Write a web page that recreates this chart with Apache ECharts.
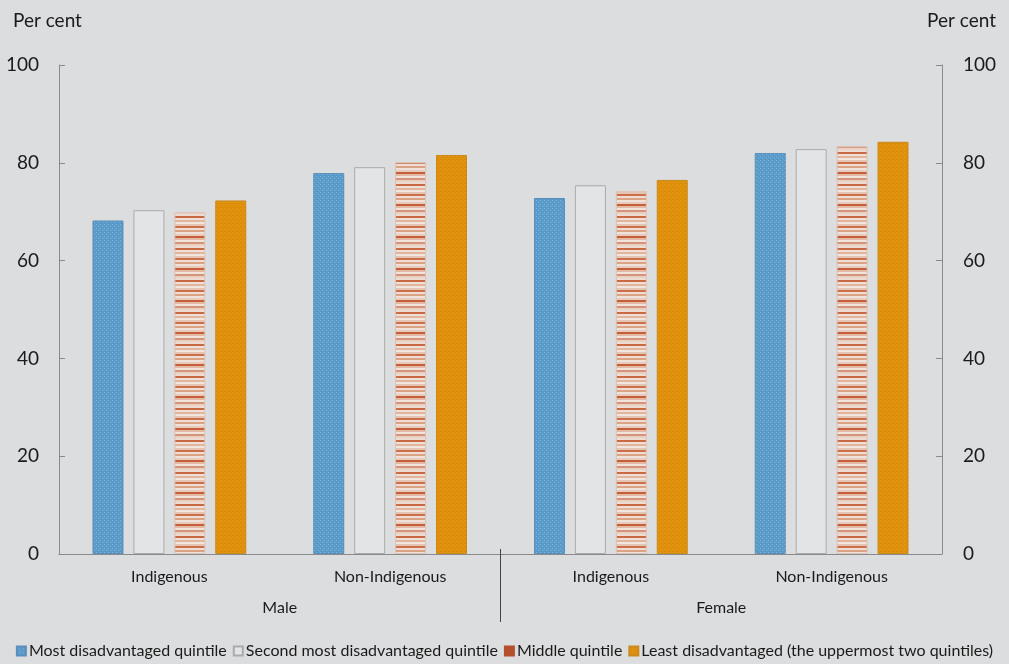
<!DOCTYPE html>
<html>
<head>
<meta charset="utf-8">
<script src="https://cdn.jsdelivr.net/npm/echarts@6/dist/echarts.min.js"></script>
<style>
html,body{margin:0;padding:0;background:#dcdddf;}
#chart{width:1009px;height:664px;}
</style>
</head>
<body>
<div id="chart"></div>
<script>
// ---- data ----
const categories = ['Indigenous', 'Non-Indigenous', 'Indigenous', 'Non-Indigenous'];
const groups = ['', 'Male', '', 'Female', ''];
const seriesNames = ['Most disadvantaged quintile', 'Second most disadvantaged quintile', 'Middle quintile', 'Least disadvantaged (the uppermost two quintiles)'];
const mostDisadvantaged = [68.2, 77.9, 72.8, 82.0];
const secondMost = [70.3, 79.1, 75.4, 82.8];
const middleQuintile = [69.9, 80.1, 74.2, 83.4];
const leastDisadvantaged = [72.3, 81.6, 76.5, 84.3];
const yTicks = [0, 20, 40, 60, 80, 100];
const yTitle = 'Per cent';

// ---- patterns ----
function makeCanvas(w, h, draw) {
  const c = document.createElement('canvas');
  c.width = w; c.height = h;
  draw(c.getContext('2d'));
  return c;
}
const bluePattern = makeCanvas(4, 4, ctx => {
  ctx.fillStyle = '#5b9bca'; ctx.fillRect(0, 0, 4, 4);
  ctx.fillStyle = '#80b3da'; ctx.fillRect(0, 0, 1, 1); ctx.fillRect(2, 2, 1, 1);
  ctx.fillStyle = '#4f8dbf'; ctx.fillRect(1, 3, 1, 1);
});
const stripeColors = ['#e6c4b3', '#cc6f4b', '#efdcd2', '#dba386', '#eee2db', '#e8cbbd', '#c45e3b', '#e4b9a3', '#f0e3dc', '#d5937a', '#ead1c4', '#ecdcd4', '#c96a45', '#efdfd7', '#e2b49f', '#f1e5de'];
const stripePattern = makeCanvas(4, stripeColors.length * 2, ctx => {
  stripeColors.forEach((c, i) => { ctx.fillStyle = c; ctx.fillRect(0, i * 2, 4, 2); });
});
const orangePattern = makeCanvas(4, 4, ctx => {
  ctx.fillStyle = '#df900b'; ctx.fillRect(0, 0, 4, 4);
  ctx.fillStyle = '#e89c1c'; ctx.fillRect(0, 0, 1, 1); ctx.fillRect(2, 2, 1, 1);
  ctx.fillStyle = '#d38606'; ctx.fillRect(1, 3, 1, 1);
});

const font = 'Lato, "Open Sans", sans-serif';
const axisColor = '#8a8a8a';
const textColor = '#1a1a1a';

const chart = echarts.init(document.getElementById('chart'), null, {renderer: 'canvas'});

function barSeries(name, data, color, border) {
  return {
    name: name, type: 'bar', data: data, xAxisIndex: 0, yAxisIndex: 0,
    barWidth: 31, barGap: '32%',
    itemStyle: {color: color, borderColor: border, borderWidth: 1},
    emphasis: {disabled: true}
  };
}

const option = {
  backgroundColor: '#dcdddf',
  animation: false,
  title: [
    {text: yTitle, left: 8, top: 6, textStyle: {fontFamily: font, fontSize: 19, fontWeight: 'normal', color: textColor}},
    {text: yTitle, right: 8, top: 6, textStyle: {fontFamily: font, fontSize: 19, fontWeight: 'normal', color: textColor}}
  ],
  grid: {left: 59, right: 67, top: 65, bottom: 110, containLabel: false},
  legend: {
    bottom: 0, left: 'center', icon: 'rect', itemWidth: 9, itemHeight: 9, itemGap: 6,
    textStyle: {fontFamily: font, fontSize: 16, color: textColor, padding: [0, 0, 0, -2]},
    data: [
      {name: seriesNames[0]},
      {name: seriesNames[1]},
      {name: seriesNames[2], itemStyle: {color: '#b4502e', borderColor: '#b4502e'}},
      {name: seriesNames[3]}
    ]
  },
  xAxis: [
    {
      type: 'category', data: categories, position: 'bottom',
      axisLine: {lineStyle: {color: axisColor, width: 1}},
      axisTick: {inside: true, length: 5, lineStyle: {color: axisColor}},
      axisLabel: {fontFamily: font, fontSize: 16, color: textColor, margin: 15}
    },
    {
      type: 'category', data: groups, position: 'bottom', boundaryGap: false, offset: -5,
      axisLine: {show: false},
      axisTick: {show: true, length: 73, interval: (i) => i === 2, lineStyle: {color: '#444'}},
      axisLabel: {fontFamily: font, fontSize: 16, color: textColor, margin: 51, interval: 0}
    }
  ],
  yAxis: [
    {
      type: 'value', position: 'left', min: yTicks[0], max: yTicks[yTicks.length - 1], interval: 20,
      axisLine: {show: true, lineStyle: {color: axisColor}},
      axisTick: {show: true, inside: true, length: 6, lineStyle: {color: axisColor}},
      splitLine: {show: false},
      axisLabel: {fontFamily: font, fontSize: 19, color: textColor, margin: 20}
    },
    {
      type: 'value', position: 'right', min: yTicks[0], max: yTicks[yTicks.length - 1], interval: 20,
      axisLine: {show: true, lineStyle: {color: axisColor}},
      axisTick: {show: true, inside: true, length: 6, lineStyle: {color: axisColor}},
      splitLine: {show: false},
      axisLabel: {fontFamily: font, fontSize: 19, color: textColor, margin: 21}
    }
  ],
  series: [
    barSeries(seriesNames[0], mostDisadvantaged, {image: bluePattern, repeat: 'repeat'}, '#5a8fbb'),
    barSeries(seriesNames[1], secondMost, '#e3e4e6', '#ababab'),
    barSeries(seriesNames[2], middleQuintile, {image: stripePattern, repeat: 'repeat'}, '#dcc2b6'),
    barSeries(seriesNames[3], leastDisadvantaged, {image: orangePattern, repeat: 'repeat'}, '#c98a1e')
  ]
};
chart.setOption(option);
</script>
</body>
</html>
